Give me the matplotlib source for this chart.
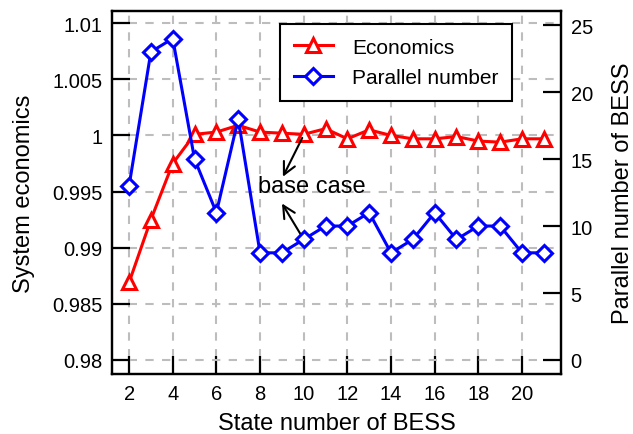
import numpy as np
import matplotlib.pyplot as plt
from matplotlib.ticker import FormatStrFormatter

plt.rcParams['font.family'] = ['Liberation Sans', 'DejaVu Sans']

# data
states = list(range(2, 22))
economics = [0.9869, 0.9925, 0.9975, 1.0001, 1.0003, 1.0009, 1.0003, 1.0002, 1.0001,
             1.0006, 0.9997, 1.0005, 1.0000, 0.9997, 0.9997, 0.9999, 0.9995, 0.9994,
             0.9997, 0.9997]
parallel = [13, 23, 24, 15, 11, 18, 8, 8, 9, 10, 10, 11, 8, 9, 11, 9, 10, 10, 8, 8]
left_ticks = [0.98, 0.985, 0.99, 0.995, 1.0, 1.005, 1.01]
right_ticks = [0, 5, 10, 15, 20, 25]
x_ticks = list(range(2, 21, 2))

fig = plt.figure(figsize=(6.33, 4.35), dpi=100)
ax = fig.add_axes([0.177, 0.138, 0.709, 0.834])
ax2 = ax.twinx()

l1, = ax.plot(states, economics, color='red', lw=2.2, marker='^', ms=9.5,
              mfc='white', mec='red', mew=2.2, label='Economics')
l2, = ax2.plot(states, parallel, color='blue', lw=2.2, marker='D', ms=8.5,
               mfc='white', mec='blue', mew=2.2, label='Parallel number')

ax.set_xlim(1.22, 21.78)
ax.set_ylim(0.97875, 1.01107)
ax2.set_ylim(-1.045, 26.04)

ax.set_xticks(x_ticks)
ax.set_yticks(left_ticks)
ax2.set_yticks(right_ticks)
ax.yaxis.set_major_formatter(FormatStrFormatter('%g'))

ax.grid(color='#bdbdbd', linestyle=(0, (4, 4)), linewidth=1.5)
ax.set_axisbelow(True)

for a in (ax, ax2):
    a.tick_params(direction='in', length=13, width=1.6, labelsize=14.5, pad=7)
    for s in a.spines.values():
        s.set_linewidth(1.6)
ax2.tick_params(axis='y', right=True)

ax.set_xlabel('State number of BESS', fontsize=17, labelpad=6.5)
ax.set_ylabel('System economics', fontsize=17, labelpad=12)
ax2.set_ylabel('Parallel number of BESS', fontsize=17, labelpad=14)

ax.annotate('', xy=(8.99, 0.9961), xytext=(9.99, 1.0),
            arrowprops=dict(arrowstyle='->', color='black', lw=1.5, mutation_scale=22))
ax.annotate('', xy=(8.94, 0.99415), xytext=(9.99, 0.99077),
            arrowprops=dict(arrowstyle='->', color='black', lw=1.5, mutation_scale=22))
ax.text(7.9, 0.99548, 'base case', fontsize=17, va='center', ha='left')

leg = ax.legend(handles=[l1, l2], loc='upper right', bbox_to_anchor=(0.891, 0.964),
                borderaxespad=0, fontsize=15, frameon=True, fancybox=False,
                edgecolor='black', framealpha=1, handlelength=1.9, handletextpad=0.9,
                borderpad=0.65, labelspacing=0.55)
leg.get_frame().set_linewidth(1.5)

plt.savefig('out.png', dpi=100)
plt.close()
